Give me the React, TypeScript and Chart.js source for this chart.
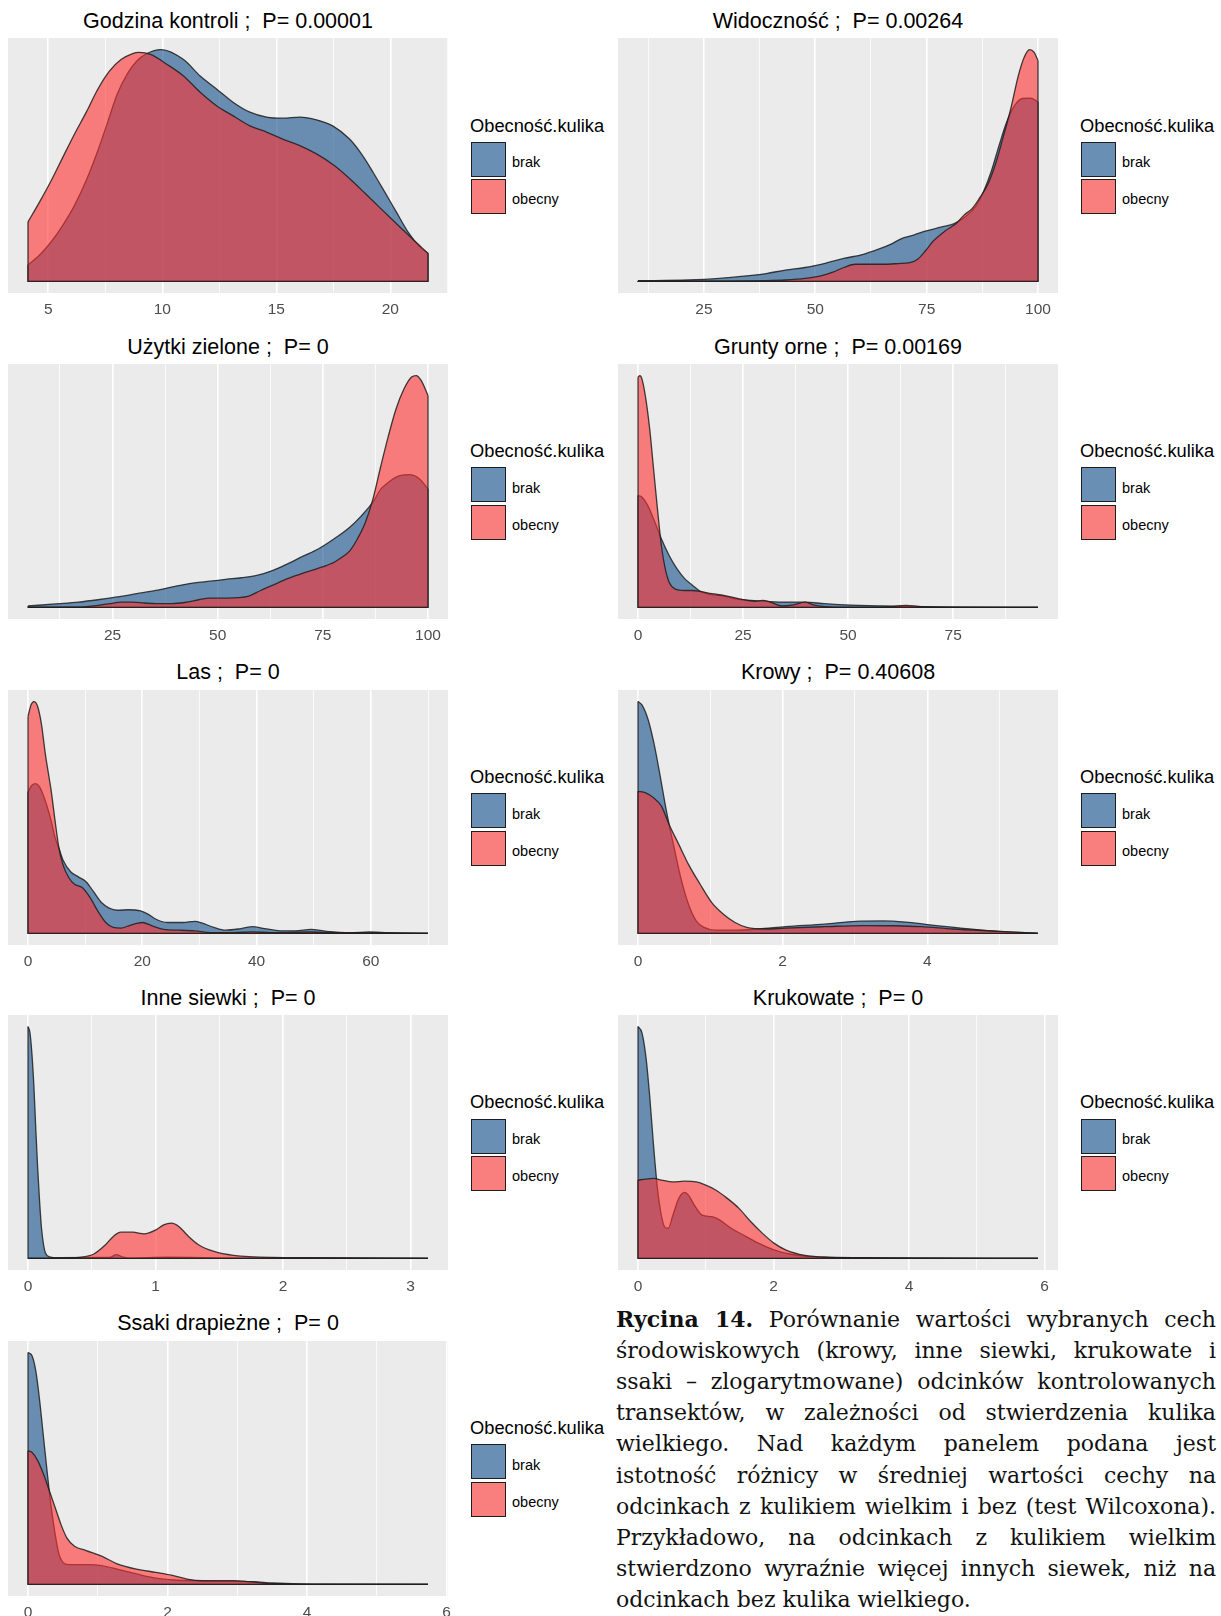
import { useEffect, useRef } from 'react';
import { Chart, registerables } from 'chart.js';

Chart.register(...registerables);

// ---------------- DATA (relative density, % of panel maximum) ----------------
const panelNames = ['Godzina kontroli', 'Widoczność', 'Użytki zielone', 'Grunty orne', 'Las', 'Krowy', 'Inne siewki', 'Krukowate', 'Ssaki drapieżne'];
const pValues = ['0.00001', '0.00264', '0', '0.00169', '0', '0.40608', '0', '0', '0'];
const groupLabels = ['brak', 'obecny'];
const legendTitle = 'Obecność.kulika';

const godzinaTicks = [5, 10, 15, 20];
const godzinaBrakX = [4.11, 4.62, 5.13, 5.64, 6.15, 6.66, 7.17, 7.6, 8.02, 8.45, 8.87, 9.3, 9.95, 10.93, 11.66, 12.39, 13.1, 13.84, 14.57, 15.28, 16.03, 16.76, 17.47, 18.21, 18.73, 19.24, 19.75, 20.26, 20.77, 21.28, 21.65];
const godzinaBrakY = [7.1, 11.4, 17.1, 24.3, 32.8, 43.5, 56.4, 68.6, 80.7, 89.3, 95.0, 98.2, 100, 95.7, 88.6, 82.9, 77.3, 73.0, 70.9, 70.4, 70.9, 69.7, 67.1, 61.4, 55.0, 47.1, 38.6, 30.0, 21.4, 15.0, 12.1];
const godzinaObecnyX = [4.11, 4.62, 5.13, 5.64, 6.15, 6.66, 7.17, 7.68, 8.19, 8.7, 8.96, 9.48, 10.21, 10.93, 11.66, 12.39, 13.11, 13.84, 14.57, 15.28, 16.03, 16.76, 17.54, 18.22, 18.9, 19.58, 20.26, 20.94, 21.65];
const godzinaObecnyY = [25.7, 34.3, 43.5, 53.6, 63.6, 72.9, 82.9, 90.7, 95.7, 98.3, 98.8, 97.9, 93.6, 88.6, 81.6, 75.7, 71.4, 67.1, 64.4, 61.4, 58.6, 55.0, 50.0, 44.3, 37.9, 31.4, 25.0, 18.6, 12.1];

const widocznoscTicks = [25, 50, 75, 100];
const widocznoscBrakX = [10.2, 21.5, 28.5, 34.6, 39.0, 43.3, 47.7, 52.0, 56.4, 60.8, 64.2, 66.9, 69.5, 72.1, 74.7, 78.2, 81.2, 84.3, 86.0, 87.8, 89.5, 91.3, 93.0, 94.8, 96.5, 98.3, 100];
const widocznoscBrakY = [0.3, 0.6, 1.3, 2.4, 3.4, 4.9, 6.0, 7.7, 9.9, 11.7, 13.9, 16.0, 18.6, 20.0, 21.7, 23.4, 24.9, 28.9, 32.4, 38.9, 47.4, 58.9, 68.9, 76.0, 78.9, 79.1, 77.4];
const widocznoscObecnyX = [10.2, 30.2, 39.0, 43.3, 47.7, 51.2, 53.8, 56.4, 59.0, 61.6, 65.1, 68.6, 71.2, 73.0, 74.7, 76.5, 79.1, 81.7, 83.4, 85.2, 86.9, 88.7, 90.4, 92.1, 93.9, 95.6, 96.9, 98.1, 99.1, 100];
const widocznoscObecnyY = [0.1, 0.1, 0.3, 0.6, 1.3, 2.4, 3.9, 6.0, 7.4, 7.4, 7.4, 7.7, 8.1, 9.6, 13.1, 17.4, 21.7, 25.1, 28.6, 31.4, 36.0, 41.7, 50.3, 61.7, 74.6, 88.9, 96.7, 100, 98.9, 95.3];

const uzytkiTicks = [25, 50, 75, 100];
const uzytkiBrakX = [4.9, 12.3, 16.9, 21.5, 26.1, 30.7, 35.3, 39.9, 44.5, 48.2, 51.9, 55.6, 59.3, 63.0, 66.6, 70.3, 74.0, 77.7, 81.4, 84.1, 86.9, 88.8, 90.6, 92.4, 94.3, 95.7, 97.1, 98.4, 100];
const uzytkiBrakY = [0.6, 1.6, 2.3, 3.3, 4.5, 5.9, 7.3, 9.1, 10.6, 11.3, 12.1, 12.8, 13.8, 15.9, 18.8, 22.1, 25.3, 29.6, 34.6, 39.4, 45.4, 51.1, 54.0, 56.2, 57.2, 57.3, 56.6, 54.7, 51.1];
const uzytkiObecnyX = [4.9, 16.9, 21.5, 24.3, 27.0, 29.8, 32.6, 35.3, 39.0, 42.7, 45.5, 48.2, 51.0, 54.7, 57.4, 60.2, 63.0, 66.6, 70.3, 74.0, 77.7, 79.5, 81.4, 83.2, 85.1, 86.9, 88.8, 90.6, 92.4, 94.3, 96.1, 97.2, 98.4, 100];
const uzytkiObecnyY = [0, 0.1, 0.9, 1.6, 2.3, 2.3, 1.9, 1.6, 1.6, 2.3, 3.3, 4.0, 4.0, 4.2, 4.9, 7.3, 9.5, 12.4, 14.8, 16.9, 19.5, 21.6, 24.4, 29.5, 36.6, 46.7, 61.1, 74.1, 85.6, 94.3, 99.4, 100, 97.8, 91.4];

const gruntyTicks = [0, 25, 50, 75];
const gruntyBrakX = [0, 0.93, 2.31, 3.7, 5.56, 7.41, 9.26, 11.1, 13.0, 14.8, 17.6, 20.4, 23.1, 26.9, 30.6, 35.2, 39.8, 44.4, 49.1, 58.3, 67.6, 76.9, 95.2];
const gruntyBrakY = [48.3, 47.6, 44.0, 38.2, 29.6, 22.4, 16.7, 12.4, 9.5, 6.9, 5.5, 4.9, 3.7, 3.0, 2.6, 2.3, 2.3, 1.6, 1.1, 0.6, 0.3, 0.1, 0];
const gruntyObecnyX = [0, 0.46, 0.93, 1.85, 2.78, 3.7, 4.63, 5.56, 6.48, 7.41, 8.8, 11.1, 13.0, 14.8, 17.6, 20.4, 24.1, 27.8, 29.6, 31.5, 34.3, 37.0, 39.8, 41.7, 44.4, 49.1, 58.3, 63.9, 66.7, 72.2, 95.2];
const gruntyObecnyY = [99.3, 100, 98.6, 90.1, 77.0, 59.8, 42.5, 26.7, 16.7, 10.9, 8.0, 7.3, 7.3, 6.9, 5.9, 5.2, 3.7, 2.6, 3.0, 2.3, 0.6, 1.1, 2.3, 1.1, 0.3, 0, 0, 0.9, 0.4, 0, 0];

const lasTicks = [0, 20, 40, 60];
const lasBrakX = [0, 0.68, 1.36, 2.03, 3.05, 4.07, 4.75, 5.42, 6.1, 7.46, 8.81, 10.2, 11.5, 12.9, 14.2, 15.6, 17.6, 19.7, 21.0, 22.4, 24.4, 27.1, 29.2, 30.5, 32.5, 34.6, 37.3, 39.3, 41.4, 44.1, 46.8, 49.5, 52.2, 56.3, 59.7, 63.1, 70];
const lasBrakY = [61.0, 63.9, 64.6, 63.2, 57.0, 48.4, 41.3, 36.7, 31.8, 26.6, 24.4, 22.2, 17.9, 13.2, 10.9, 10.0, 10.2, 9.7, 8.3, 6.1, 4.7, 4.7, 5.2, 4.4, 2.6, 1.4, 2.1, 2.9, 2.1, 1.1, 1.1, 1.7, 0.9, 0.3, 0.6, 0.3, 0];
const lasObecnyX = [0, 0.54, 1.02, 1.69, 2.37, 3.05, 4.07, 4.75, 5.42, 6.1, 7.12, 8.14, 9.49, 10.85, 12.2, 13.6, 14.9, 16.3, 17.6, 19.0, 20.0, 21.7, 23.7, 26.4, 29.2, 31.9, 35.9, 39.3, 42.7, 49.5, 52.9, 70];
const lasObecnyY = [93.6, 98.6, 100, 97.9, 90.0, 77.1, 61.3, 48.3, 36.7, 29.8, 24.1, 21.2, 19.8, 15.5, 9.7, 4.7, 2.6, 2.3, 3.3, 4.3, 4.7, 3.3, 1.7, 1.4, 1.1, 0.3, 0.3, 0.7, 0.3, 0.6, 0.3, 0];

const krowyTicks = [0, 2, 4];
const krowyBrakX = [0, 0.054, 0.134, 0.215, 0.295, 0.376, 0.43, 0.51, 0.591, 0.698, 0.805, 0.913, 1.074, 1.342, 1.664, 2.04, 2.58, 3.01, 3.38, 3.7, 4.03, 4.46, 4.99, 5.53];
const krowyBrakY = [100, 98.6, 92.8, 82.8, 69.9, 55.6, 47.0, 35.5, 24.1, 12.6, 5.4, 2.6, 1.4, 1.4, 1.9, 2.9, 4.0, 5.2, 5.4, 4.9, 3.7, 2.3, 0.9, 0];
const krowyObecnyX = [0, 0.107, 0.215, 0.322, 0.43, 0.564, 0.698, 0.859, 1.02, 1.181, 1.342, 1.503, 1.772, 2.04, 2.58, 3.11, 3.54, 3.92, 4.35, 4.99, 5.53];
const krowyObecnyY = [61.3, 60.6, 58.5, 55.0, 47.0, 38.4, 29.8, 21.2, 13.3, 8.3, 4.7, 2.6, 1.9, 2.3, 2.9, 3.4, 3.3, 2.9, 1.9, 0.9, 0];

const siewkiTicks = [0, 1, 2, 3];
const siewkiBrakX = [0, 0.015, 0.03, 0.046, 0.061, 0.076, 0.091, 0.106, 0.122, 0.137, 0.167, 0.243, 0.638, 0.693, 0.745, 0.79, 1.094, 1.611, 3.137];
const siewkiBrakY = [100, 97.4, 88.8, 74.5, 56.0, 38.8, 24.5, 13.0, 5.9, 2.3, 0.7, 0.3, 0.4, 1.6, 0.6, 0.1, 0.5, 0.1, 0];
const siewkiObecnyX = [0, 0.243, 0.395, 0.517, 0.608, 0.669, 0.729, 0.821, 0.912, 1.003, 1.064, 1.125, 1.185, 1.246, 1.337, 1.459, 1.611, 1.915, 2.219, 3.137];
const siewkiObecnyY = [0, 0, 0.4, 1.9, 5.9, 9.5, 11.3, 11.3, 10.6, 12.3, 14.5, 15.2, 13.7, 10.2, 5.9, 3.0, 1.3, 0.4, 0.3, 0];

const krukTicks = [0, 2, 4, 6];
const krukBrakX = [0, 0.057, 0.115, 0.172, 0.229, 0.287, 0.344, 0.401, 0.447, 0.516, 0.602, 0.688, 0.745, 0.831, 0.946, 1.089, 1.203, 1.375, 1.547, 1.777, 2.006, 2.235, 2.579, 3.037, 4.183, 5.903];
const krukBrakY = [100, 97.4, 87.4, 70.2, 48.8, 30.2, 18.7, 13.3, 13.0, 18.7, 25.9, 28.5, 27.3, 23.0, 18.7, 18.0, 16.6, 13.0, 10.2, 6.6, 3.7, 1.9, 0.7, 0.3, 0.1, 0];
const krukObecnyX = [0, 0.115, 0.229, 0.344, 0.516, 0.688, 0.86, 0.974, 1.146, 1.318, 1.49, 1.662, 1.834, 2.006, 2.178, 2.464, 2.751, 3.324, 4.183, 5.903];
const krukObecnyY = [33.8, 34.2, 34.5, 33.8, 33.0, 33.3, 33.0, 31.9, 29.5, 25.9, 21.6, 15.9, 10.9, 6.6, 3.7, 1.3, 0.6, 0.3, 0.1, 0];

const ssakiTicks = [0, 2, 4, 6];
const ssakiBrakX = [0, 0.056, 0.111, 0.167, 0.222, 0.278, 0.333, 0.389, 0.444, 0.5, 0.583, 0.722, 0.889, 1.056, 1.278, 1.556, 1.833, 2.111, 2.389, 2.667, 2.944, 3.222, 3.5, 4.056, 5.733];
const ssakiBrakY = [100, 98.7, 92.2, 79.3, 63.5, 47.6, 33.2, 21.7, 13.0, 9.5, 8.5, 8.5, 8.5, 8.1, 6.6, 4.5, 2.7, 1.9, 1.6, 1.3, 1.3, 1.2, 0.6, 0.1, 0];
const ssakiObecnyX = [0, 0.056, 0.139, 0.222, 0.306, 0.389, 0.472, 0.556, 0.667, 0.833, 1.056, 1.278, 1.556, 1.833, 2.056, 2.278, 2.5, 2.722, 2.944, 3.167, 3.5, 4.056, 5.733];
const ssakiObecnyY = [57.7, 57.0, 53.4, 47.6, 40.4, 33.2, 25.9, 20.1, 16.5, 14.6, 12.2, 8.9, 6.6, 5.2, 4.0, 2.3, 1.6, 1.6, 1.6, 1.2, 0.3, 0, 0];

const captionBold = 'Rycina 14.';
const captionLines = [
  ' Porównanie wartości wybranych cech',
  'środowiskowych (krowy, inne siewki, krukowate i',
  'ssaki – zlogarytmowane) odcinków kontrolowanych',
  'transektów, w zależności od stwierdzenia kulika',
  'wielkiego. Nad każdym panelem podana jest',
  'istotność różnicy w średniej wartości cechy na',
  'odcinkach z kulikiem wielkim i bez (test Wilcoxona).',
  'Przykładowo, na odcinkach z kulikiem wielkim',
  'stwierdzono wyraźnie więcej innych siewek, niż na',
  'odcinkach bez kulika wielkiego.',
];

const panelTicks = [godzinaTicks, widocznoscTicks, uzytkiTicks, gruntyTicks, lasTicks, krowyTicks, siewkiTicks, krukTicks, ssakiTicks];
const panelSeries = [
  [godzinaBrakX, godzinaBrakY, godzinaObecnyX, godzinaObecnyY],
  [widocznoscBrakX, widocznoscBrakY, widocznoscObecnyX, widocznoscObecnyY],
  [uzytkiBrakX, uzytkiBrakY, uzytkiObecnyX, uzytkiObecnyY],
  [gruntyBrakX, gruntyBrakY, gruntyObecnyX, gruntyObecnyY],
  [lasBrakX, lasBrakY, lasObecnyX, lasObecnyY],
  [krowyBrakX, krowyBrakY, krowyObecnyX, krowyObecnyY],
  [siewkiBrakX, siewkiBrakY, siewkiObecnyX, siewkiObecnyY],
  [krukBrakX, krukBrakY, krukObecnyX, krukObecnyY],
  [ssakiBrakX, ssakiBrakY, ssakiObecnyX, ssakiObecnyY],
];

// ---------------- STYLE ----------------
const SANS = "'Liberation Sans', Arial, Helvetica, sans-serif";
const PANEL_W = 610;
const PANEL_H = 325.6;
const PLOT_TOP = 38.3;
const PLOT_H = 255;
const AXIS_H = 32;
const CANVAS_W = 456;
const FILL_BRAK = 'rgba(16,78,139,0.6)';
const FILL_OBECNY = 'rgba(255,48,48,0.6)';
const KEY_BRAK = '#6A8FB4';
const KEY_OBECNY = '#F97E7E';
const OUTLINE = 'rgba(30,30,30,0.85)';

const panelBgPlugin = {
  id: 'panelBg',
  beforeDraw(chart: any) {
    const { ctx, chartArea: a } = chart;
    ctx.save();
    ctx.fillStyle = '#EBEBEB';
    ctx.fillRect(a.left, a.top, a.right - a.left, a.bottom - a.top);
    ctx.restore();
  },
};

const edgePlugin = {
  id: 'densityEdges',
  afterDatasetDraw(chart: any, args: any) {
    const pts = args.meta.data;
    if (!pts || !pts.length) return;
    const ds = chart.data.datasets[args.index];
    const y0 = chart.scales.y.getPixelForValue(0);
    const a = pts[0];
    const b = pts[pts.length - 1];
    const ctx = chart.ctx;
    const area = chart.chartArea;
    ctx.save();
    ctx.beginPath();
    ctx.rect(area.left, area.top, area.right - area.left, area.bottom - area.top);
    ctx.clip();
    ctx.strokeStyle = ds.borderColor;
    ctx.lineWidth = ds.borderWidth;
    ctx.lineJoin = 'round';
    ctx.beginPath();
    ctx.moveTo(a.x, a.y);
    ctx.lineTo(a.x, y0);
    ctx.lineTo(b.x, y0);
    ctx.lineTo(b.x, b.y);
    ctx.stroke();
    ctx.restore();
  },
};

function gridValues(majors: number[], min: number, max: number) {
  const step = majors[1] - majors[0];
  const vals: number[] = [];
  for (let k = 0; ; k++) {
    const v = +(majors[0] - step / 2 + (k * step) / 2).toFixed(6);
    if (v > max) break;
    if (v >= min) vals.push(v);
  }
  return vals;
}

function DensityPanel({ index }: { index: number }) {
  const ref = useRef<HTMLCanvasElement>(null);
  const col = index % 2;
  const row = Math.floor(index / 2);
  const left = col * PANEL_W;
  const top = row * PANEL_H;

  useEffect(() => {
    const [bx, by, ox, oy] = panelSeries[index];
    const majors = panelTicks[index];
    const allX = [...bx, ...ox];
    const dMin = Math.min(...allX);
    const dMax = Math.max(...allX);
    const span = dMax - dMin;
    const xMin = dMin - 0.05 * span;
    const xMax = dMax + 0.05 * span;
    const yTop = Math.max(...by, ...oy);
    const grid = gridValues(majors, xMin, xMax);
    const isMajor = (v: number) => majors.some((m) => Math.abs(m - v) < 1e-6);

    const chart = new Chart(ref.current as HTMLCanvasElement, {
      type: 'line',
      data: {
        datasets: [
          {
            label: groupLabels[0],
            data: bx.map((x, i) => ({ x, y: by[i] })),
            fill: 'origin',
            backgroundColor: FILL_BRAK,
            borderColor: OUTLINE,
            borderWidth: 1.3,
            pointRadius: 0,
            cubicInterpolationMode: 'monotone',
            order: 1,
          },
          {
            label: groupLabels[1],
            data: ox.map((x, i) => ({ x, y: oy[i] })),
            fill: 'origin',
            backgroundColor: FILL_OBECNY,
            borderColor: OUTLINE,
            borderWidth: 1.3,
            pointRadius: 0,
            cubicInterpolationMode: 'monotone',
            order: 0,
          },
        ],
      },
      options: {
        animation: false,
        responsive: false,
        maintainAspectRatio: false,
        events: [],
        layout: { padding: { left: 8, right: 8, top: 0, bottom: 0 } },
        plugins: { legend: { display: false }, tooltip: { enabled: false }, title: { display: false } },
        scales: {
          x: {
            type: 'linear',
            min: xMin,
            max: xMax,
            afterBuildTicks: (s: any) => {
              s.ticks = grid.map((v) => ({ value: v }));
            },
            afterFit: (s: any) => {
              s.height = AXIS_H;
              s.paddingLeft = 0;
              s.paddingRight = 0;
            },
            ticks: {
              autoSkip: false,
              maxRotation: 0,
              minRotation: 0,
              padding: 7,
              color: '#4D4D4D',
              font: { family: SANS, size: 15.5 },
              callback: (v: any) => (isMajor(Number(v)) ? String(v) : ''),
            },
            grid: {
              color: '#FFFFFF',
              lineWidth: (ctx: any) => (ctx.tick && isMajor(ctx.tick.value) ? 1.6 : 0.8),
              drawTicks: false,
            },
            border: { display: false },
          },
          y: { display: false, min: -0.05 * yTop, max: 1.05 * yTop },
        },
      } as any,
      plugins: [panelBgPlugin, edgePlugin],
    });
    return () => chart.destroy();
  }, [index]);

  const title = `${panelNames[index]} ;  P= ${pValues[index]}`;
  const abs = { position: 'absolute' as const };
  return (
    <>
      <div
        style={{
          ...abs, left: left + 8, top: top + 8, width: 440, textAlign: 'center',
          font: `21.5px ${SANS}`, lineHeight: '26px', color: '#000', whiteSpace: 'pre',
        }}
      >
        {title}
      </div>
      <canvas
        ref={ref}
        width={CANVAS_W}
        height={PLOT_H + AXIS_H}
        style={{ ...abs, left, top: top + PLOT_TOP, width: CANVAS_W, height: PLOT_H + AXIS_H }}
      />
      <div style={{ ...abs, left: left + 470, top: top + 114.5, font: `18.3px ${SANS}`, lineHeight: '22px', color: '#000', whiteSpace: 'nowrap' }}>
        {legendTitle}
      </div>
      {[KEY_BRAK, KEY_OBECNY].map((c, k) => (
        <div
          key={k}
          style={{
            ...abs, left: left + 471, top: top + 141.7 + k * 37.6, width: 35, height: 35,
            boxSizing: 'border-box', border: '1.8px solid #1E1E1E', background: c,
          }}
        />
      ))}
      {groupLabels.map((g, k) => (
        <div
          key={g}
          style={{ ...abs, left: left + 512, top: top + 153.3 + k * 37, font: `14.5px ${SANS}`, lineHeight: '18px', color: '#000', whiteSpace: 'nowrap' }}
        >
          {g}
        </div>
      ))}
    </>
  );
}

export default function App() {
  return (
    <div style={{ position: 'absolute', left: 0, top: 0, width: 1221, height: 1616, background: '#FFFFFF', overflow: 'hidden' }}>
      {panelNames.map((_, i) => (
        <DensityPanel key={i} index={i} />
      ))}
      <div style={{ position: 'absolute', left: 616, top: 1303.5, width: 600, font: "22px 'DejaVu Serif', serif", lineHeight: '31.2px', color: '#111' }}>
        {captionLines.map((line, i) => {
          const last = i === captionLines.length - 1;
          return (
            <div
              key={i}
              style={{ whiteSpace: 'nowrap', textAlign: last ? 'left' : 'justify', textAlignLast: last ? 'left' : 'justify' } as any}
            >
              {i === 0 ? <b>{captionBold}</b> : null}
              {line}
            </div>
          );
        })}
      </div>
    </div>
  );
}
